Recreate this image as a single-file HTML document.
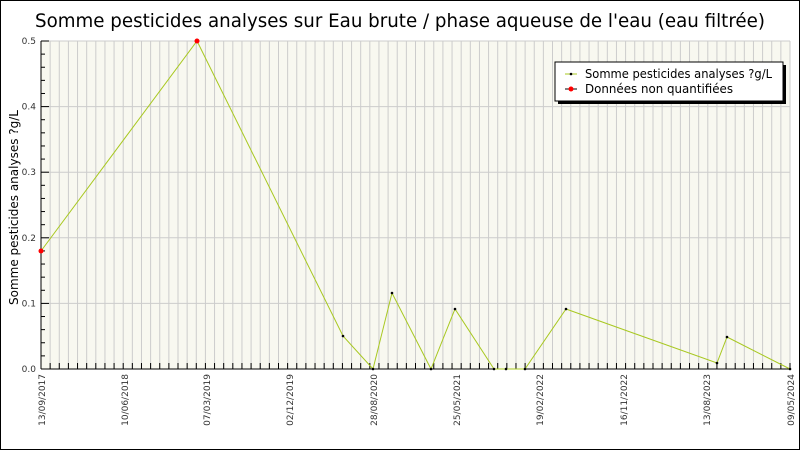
<!DOCTYPE html><html><head><style>body{margin:0;background:#fff}svg{display:block}</style></head><body>
<svg id="s" width="800" height="450" xmlns="http://www.w3.org/2000/svg" font-family="DejaVu Sans, sans-serif">
<rect x="0.5" y="0.5" width="799" height="449" fill="#fff" stroke="#000"/>
<text x="35" y="27" font-size="19" textLength="730" lengthAdjust="spacingAndGlyphs" fill="#000">Somme pesticides analyses sur Eau brute / phase aqueuse de l'eau (eau filtrée)</text>
<rect x="41" y="41" width="749" height="328" fill="#f8f8f0"/>
<g id="g"></g>
<text transform="translate(18,305) rotate(-90)" font-size="12" textLength="195" lengthAdjust="spacingAndGlyphs">Somme pesticides analyses ?g/L</text>
<polyline fill="none" stroke="#a8c820" stroke-width="1" points="41,251 197,41 343,336 373,369 392,293 431,369 455,309 494,369 506,369 525,369 566,309 717,363 727,337 790,369"/>
<g id="p"></g>
<rect x="558" y="65" width="228" height="39" fill="#000"/>
<rect x="555" y="62" width="228" height="39" fill="#fff" stroke="#000"/>
<line x1="565" y1="74" x2="577" y2="74" stroke="#a8c820"/><circle cx="571" cy="74" r="1.3" fill="#000"/>
<line x1="565" y1="89" x2="577" y2="89" stroke="#000"/><circle cx="571" cy="89" r="2.5" fill="red"/>
<text x="585" y="78" font-size="12" textLength="187" lengthAdjust="spacingAndGlyphs">Somme pesticides analyses ?g/L</text>
<text x="585" y="93" font-size="12" textLength="148" lengthAdjust="spacingAndGlyphs">Données non quantifiées</text>
</svg>
<script>
var g=document.getElementById("g"),h="";
var n=82,w=749/n;
for(var i=0;i<=n;i++){var x=41+i*w;h+='<line x1="'+x+'" y1="41" x2="'+x+'" y2="369" stroke="#ccc"/><line x1="'+x+'" y1="363" x2="'+x+'" y2="369" stroke="#000"/>';}
for(var k=0;k<=25;k++){var y=369-k*328/25;if(k%5==0){h+='<line x1="41" y1="'+y+'" x2="790" y2="'+y+'" stroke="#ccc"/><line x1="41" y1="'+y+'" x2="49" y2="'+y+'" stroke="#000"/><text x="36" y="'+(y+3)+'" font-size="9" fill="#333" text-anchor="end">'+(k/50).toFixed(1)+'</text>';}else h+='<line x1="41" y1="'+y+'" x2="45" y2="'+y+'" stroke="#000"/>';}
h+='<line x1="41" y1="41" x2="41" y2="369" stroke="#000"/><line x1="41" y1="369" x2="790" y2="369" stroke="#000"/>';
var L=["13/09/2017","10/06/2018","07/03/2019","02/12/2019","28/08/2020","25/05/2021","19/02/2022","16/11/2022","13/08/2023","09/05/2024"];
var X=[41,124,206,289,373,456,539,623,706,790];
for(var j=0;j<L.length;j++)h+='<text transform="translate('+(X[j]+4)+',374) rotate(-90)" font-size="9" fill="#333" text-anchor="end">'+L[j]+'</text>';
g.innerHTML=h;
var P=[[41,251,1],[197,41,1],[343,336],[373,369],[392,293],[431,369],[455,309],[494,369],[506,369],[525,369],[566,309],[717,363],[727,337],[790,369]],q="";
P.forEach(function(p){q+=p[2]?'<circle cx="'+p[0]+'" cy="'+p[1]+'" r="2.5" fill="red"/>':'<circle cx="'+p[0]+'" cy="'+p[1]+'" r="1.3" fill="#000"/>';});
document.getElementById("p").innerHTML=q;
</script>
</body></html>
